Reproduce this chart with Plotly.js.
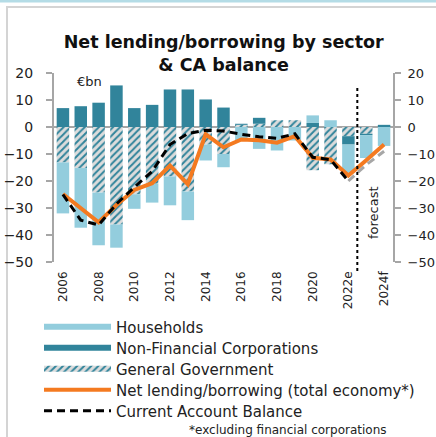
<!DOCTYPE html>
<html><head><meta charset="utf-8">
<script src="https://cdn.plot.ly/plotly-3.0.1.min.js"></script>
<style>html,body{margin:0;padding:0;background:#fff;} #chart{width:436px;height:437px;}</style>
</head><body><div id="chart"></div>
<script>
// ---- data (EUR bn) ----
const years = [2006,2007,2008,2009,2010,2011,2012,2013,2014,2015,2016,2017,2018,2019,2020,2021,2022,2023,2024];
const tickYears = [2006,2008,2010,2012,2014,2016,2018,2020,2022,2024];
const tickLabels = ['2006','2008','2010','2012','2014','2016','2018','2020','2022e','2024f'];
const generalGov  = [-13.1,-15.2,-24.3,-36.1,-24.9,-21.0,-18.3,-23.9,-6.5,-10.0,0.8,1.2,2.5,2.5,-16.0,-13.8,-3.4,-2.5,0];
const nonFinCorps = [7.0,7.7,9.0,15.4,7.0,8.2,13.9,13.9,10.2,7.2,0.4,2.2,0,0,1.5,0,-3.1,-0.5,0.8];
const households  = [-18.9,-22.1,-19.5,-8.6,-5.4,-7.0,-10.7,-10.6,-5.9,-4.9,-5.0,-8.1,-8.7,-5.0,2.8,2.5,-10.5,-8.5,-7.0];
const netLending  = [-24.8,-30.1,-35.3,-28.9,-23.3,-20.8,-14.3,-21.2,-2.7,-7.5,-4.6,-4.9,-5.8,-3.4,-11.4,-12.0,-18.0,-12.3,-6.5];
const caYears = [2006,2007,2008,2009,2010,2011,2012,2013,2014,2015,2016,2017,2018,2019,2020,2021,2022];
const currentAccount = [-25.0,-34.5,-36.3,-28.5,-22.3,-16.4,-6.5,-2.4,-1.2,-1.5,-2.7,-3.6,-4.2,-2.5,-11.2,-12.1,-20.0];
const caForecastYears = [2022,2023,2024];
const caForecast = [-20.0,-14.0,-9.0];
const lastActualYear = 2022;

// ---- styles ----
const W = 436, H = 437;
const M = {l:54, r:43, t:73, b:175};
const PW = W - M.l - M.r, PH = H - M.t - M.b;
const px = v => (v - M.l) / PW;
const py = v => (H - M.b - v) / PH;
const FONT = 'DejaVu Sans';
const cHH = '#93CDDD', cNFC = '#31849B', cGGfg = '#31849B', cGGbg = '#DCDCDC';
const cOrange = '#F47A20', cAxis = '#A6A6A6';
const ggPattern = {shape:'/', fgcolor:cGGfg, bgcolor:cGGbg, size:5, solidity:0.4};

const traces = [
  {type:'bar', x:years, y:generalGov, marker:{color:cGGbg, pattern:ggPattern, line:{width:0}}, showlegend:false, name:'General Government'},
  {type:'bar', x:years, y:nonFinCorps, marker:{color:cNFC, line:{width:0}}, showlegend:false, name:'Non-Financial Corporations'},
  {type:'bar', x:years, y:households, marker:{color:cHH, line:{width:0}}, showlegend:false, name:'Households'},
  {type:'scatter', mode:'lines', x:years, y:netLending, line:{color:cOrange, width:4}, name:'Net lending/borrowing (total economy*)', legend:'legend4'},
  {type:'scatter', mode:'lines', x:caYears, y:currentAccount, line:{color:'#000', width:3, dash:'8px,5px'}, name:'Current Account Balance', legend:'legend5'},
  {type:'scatter', mode:'lines', x:caForecastYears, y:caForecast, yaxis:'y2', line:{color:'#A6A6A6', width:3, dash:'8px,5px'}, showlegend:false, name:'CA forecast'},
  // legend swatches
  {type:'scatter', x:[null], y:[null], yaxis:'y2', mode:'none', fill:'toself', fillcolor:cHH, name:'Households', legend:'legend', hoverinfo:'skip'},
  {type:'scatter', x:[null], y:[null], yaxis:'y2', mode:'none', fill:'toself', fillcolor:cNFC, name:'Non-Financial Corporations', legend:'legend2', hoverinfo:'skip'},
  {type:'scatter', x:[null], y:[null], yaxis:'y2', mode:'none', fill:'toself', fillcolor:cGGbg, fillpattern:ggPattern, name:'General Government', legend:'legend3', hoverinfo:'skip'}
];

const forecastX = (lastActualYear + lastActualYear + 1) / 2;
const legendRows = [327, 348, 369, 390, 411];
const mkLegend = rowY => ({x:px(39), y:py(rowY), xanchor:'left', yanchor:'middle', orientation:'v', itemwidth:67,
  font:{family:FONT, size:15, color:'#222'}, bgcolor:'rgba(0,0,0,0)', borderwidth:0});

const layout = {
  width:W, height:H, margin:{l:M.l, r:M.r, t:M.t, b:M.b, pad:0, autoexpand:false},
  paper_bgcolor:'#fff', plot_bgcolor:'rgba(0,0,0,0)',
  barmode:'relative', bargap:0.3,
  font:{family:FONT, color:'#222'},
  title:{text:'Net lending/borrowing by sector<br>& CA balance', font:{family:FONT, size:17.5, weight:'bold', color:'#111'},
         x:0.513, xref:'container', xanchor:'center', y:1-48/H, yref:'container', yanchor:'top'},
  xaxis:{range:[2005.5,2024.5], tickvals:tickYears, ticktext:tickLabels, tickangle:-90, ticks:'', showline:false, showgrid:false, zeroline:false,
         tickfont:{family:FONT, size:12, color:'#222'}, ticklabelstandoff:6},
  yaxis:{range:[-50,20], dtick:10, showgrid:false, zeroline:true, zerolinecolor:cAxis, zerolinewidth:2,
         showline:true, linecolor:cAxis, linewidth:2, ticks:'outside', ticklen:6, tickwidth:2, tickcolor:cAxis,
         tickfont:{family:FONT, size:14, color:'#222'}, ticklabelstandoff:10},
  yaxis2:{range:[-50,20], dtick:10, overlaying:'y', side:'right', anchor:'x', showgrid:false, zeroline:false,
         showline:true, linecolor:cAxis, linewidth:2, ticks:'outside', ticklen:6, tickwidth:2, tickcolor:cAxis,
         tickfont:{family:FONT, size:13, color:'#222'}, ticklabelstandoff:4},
  legend:mkLegend(legendRows[0]),
  legend2:mkLegend(legendRows[1]),
  legend3:mkLegend(legendRows[2]),
  legend4:mkLegend(legendRows[3]),
  legend5:mkLegend(legendRows[4]),
  shapes:[
    {type:'rect', xref:'paper', yref:'paper', x0:px(-2), x1:px(440), y0:py(-2), y1:py(2.5), fillcolor:'#B4DCE6', line:{width:0}, layer:'below'},
    {type:'rect', xref:'paper', yref:'paper', x0:px(7), x1:px(445), y0:py(7), y1:py(450), fillcolor:'rgba(0,0,0,0)', line:{color:'#D4D4D4', width:2}, layer:'below'},
    {type:'line', xref:'x', yref:'paper', x0:forecastX, x1:forecastX, y0:py(271), y1:py(87), line:{color:'#000', width:2, dash:'dot'}}
  ],
  annotations:[
    {text:'€bn', xref:'paper', yref:'paper', x:px(89), y:py(81), xanchor:'center', yanchor:'middle', showarrow:false, font:{family:FONT, size:13, color:'#222'}},
    {text:'forecast', xref:'paper', yref:'paper', x:px(373), y:py(213), xanchor:'center', yanchor:'middle', textangle:-90, showarrow:false, font:{family:FONT, size:13, color:'#222'}},
    {text:'*excluding financial corporations', xref:'paper', yref:'paper', x:px(389), y:py(430), xanchor:'right', yanchor:'middle', showarrow:false, font:{family:FONT, size:12, color:'#222'}}
  ]
};

Plotly.newPlot('chart', traces, layout, {staticPlot:true, displayModeBar:false});
</script></body></html>
